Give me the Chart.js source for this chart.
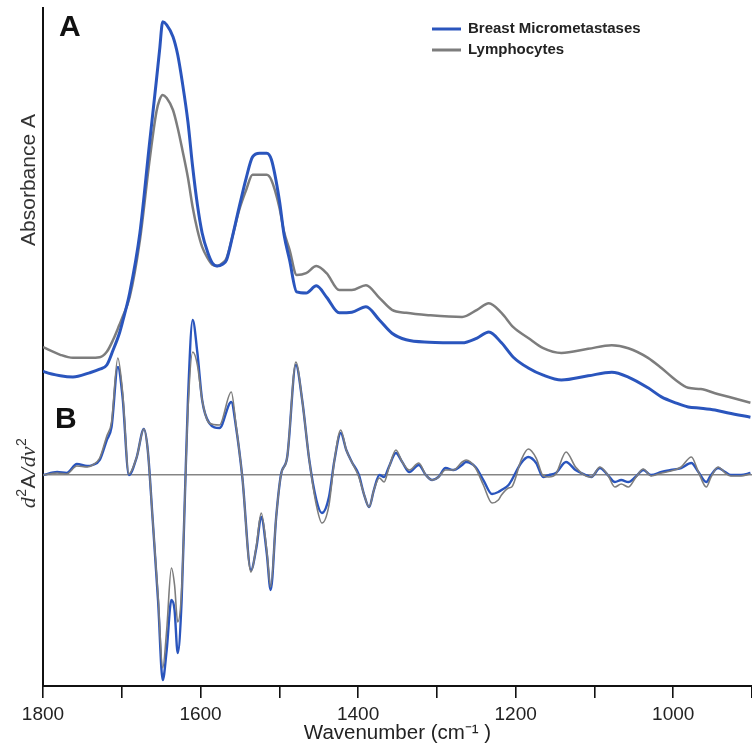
<!DOCTYPE html>
<html>
<head>
<meta charset="utf-8">
<script src="https://cdn.jsdelivr.net/npm/chart.js@4.4.1/dist/chart.umd.min.js"></script>
<style>
  html, body { margin: 0; padding: 0; background: #ffffff; }
  #wrap { width: 752px; height: 751px; }
</style>
</head>
<body>
<div id="wrap"><canvas id="c" width="752" height="751"></canvas></div>
<script>
// ---------- data ----------
const seriesNames = ['Breast Micrometastases', 'Lymphocytes'];
const panelLabels = ['A', 'B'];
const xTitle = 'Wavenumber (cm\u207B\u00B9 )';
const yTitleA = 'Absorbance A';
const xTickLabels = [1800, 1600, 1400, 1200, 1000];

// Panel A: absorbance spectra
const absWavenumber = [1800,1797,1778,1762,1741,1728,1719,1711,1703,1699,1690,1677,1665,1656,1652,1648,1643,1635,1629,1623,1616,1610,1604,1598,1591,1585,1579,1572,1567,1559,1551,1542,1534,1525,1516,1510,1500,1494,1487,1478,1466,1453,1440,1424,1408,1390,1373,1357,1339,1310,1268,1249,1234,1218,1203,1184,1165,1142,1108,1078,1057,1032,1015,997,981,965,947,930,902];
const absBreast = [0.525,0.523,0.517,0.515,0.522,0.528,0.535,0.560,0.588,0.607,0.655,0.755,0.902,1.010,1.060,1.107,1.102,1.082,1.052,1.005,0.940,0.865,0.802,0.755,0.723,0.705,0.700,0.703,0.710,0.752,0.798,0.847,0.882,0.888,0.888,0.877,0.810,0.752,0.710,0.657,0.655,0.667,0.648,0.622,0.623,0.632,0.610,0.588,0.577,0.573,0.572,0.580,0.590,0.572,0.548,0.530,0.518,0.510,0.517,0.523,0.515,0.497,0.482,0.472,0.465,0.463,0.460,0.455,0.448];
const absLymph = [0.565,0.563,0.552,0.547,0.547,0.548,0.557,0.577,0.602,0.615,0.648,0.743,0.873,0.957,0.977,0.985,0.980,0.960,0.930,0.893,0.847,0.798,0.760,0.732,0.713,0.702,0.700,0.705,0.713,0.752,0.793,0.827,0.852,0.852,0.852,0.843,0.798,0.757,0.727,0.685,0.688,0.700,0.688,0.660,0.660,0.668,0.647,0.627,0.622,0.618,0.615,0.627,0.638,0.622,0.598,0.580,0.563,0.555,0.562,0.568,0.563,0.547,0.530,0.510,0.497,0.495,0.488,0.482,0.472];

// Panel B: second-derivative spectra
const derWavenumber = [1800,1782,1770,1757,1744,1737,1728,1719,1713,1705,1699,1691,1681,1672,1667,1661,1654,1648,1643,1637,1633,1629,1624,1620,1616,1610,1604,1598,1589,1576,1561,1555,1547,1536,1529,1523,1516,1511,1504,1498,1490,1479,1471,1462,1453,1446,1437,1430,1422,1415,1408,1399,1393,1386,1380,1373,1367,1361,1352,1344,1335,1323,1314,1306,1298,1289,1279,1268,1263,1251,1241,1230,1222,1218,1209,1205,1193,1184,1174,1165,1158,1149,1136,1124,1111,1104,1093,1083,1074,1066,1057,1048,1038,1028,1015,1003,990,977,968,958,952,943,934,927,914,902];
const derBreast = [0,0.03,0.02,0.11,0.09,0.10,0.15,0.35,0.48,1.08,
  0.78,0,0.18,0.46,0.25,-0.42,-1.25,-2.05,-1.75,-1.25,
  -1.35,-1.78,-1.25,-0.25,0.75,1.55,1.22,0.75,0.52,0.47,
  0.73,0.48,-0.02,-0.95,-0.72,-0.42,-0.78,-1.15,-0.42,0,
  0.18,1.10,0.75,0.15,-0.25,-0.38,-0.22,0.15,0.42,0.25,
  0.13,0,-0.18,-0.32,-0.15,0,-0.02,0.08,0.22,0.13,
  0.03,0.10,0,-0.05,-0.02,0.07,0.05,0.10,0.13,0.08,
  -0.05,-0.19,-0.17,-0.15,-0.10,-0.05,0.12,0.18,0.12,-0.02,
  0,0.02,0.13,0.05,0,-0.02,0.07,0,-0.07,-0.05,
  -0.07,-0.02,0.05,0,0.03,0.05,0.07,0.12,0.03,-0.07,
  0,0.07,0.03,0,0,0.02];
const derLymph = [0,0.02,0.01,0.09,0.08,0.10,0.17,0.39,0.53,1.17,
  0.83,0.01,0.18,0.46,0.25,-0.42,-1.20,-1.93,-1.55,-0.93,
  -1.10,-1.47,-1.15,-0.25,0.65,1.23,1.10,0.75,0.52,0.50,
  0.83,0.50,-0.02,-0.97,-0.70,-0.38,-0.75,-1.12,-0.42,0,
  0.18,1.13,0.75,0.15,-0.30,-0.48,-0.30,0.15,0.45,0.25,
  0.13,-0.02,-0.18,-0.32,-0.15,-0.03,-0.07,0.07,0.25,0.13,
  0.05,0.12,0,-0.05,-0.02,0.05,0.05,0.13,0.15,0.07,
  -0.10,-0.28,-0.25,-0.20,-0.13,-0.12,0.15,0.26,0.17,-0.01,
  -0.02,0.01,0.23,0.08,-0.01,-0.02,0.08,0,-0.12,-0.09,
  -0.12,-0.03,0.06,-0.01,0.02,0.04,0.08,0.18,0.03,-0.12,
  -0.02,0.08,0.02,-0.01,-0.01,0.01];

// ---------- styling ----------
const BLUE = '#2a55bd';
const GRAY = '#7d7d7d';
const FONT = '"Liberation Sans", Arial, sans-serif';

const toXY = (xs, ys) => xs.map((x, i) => ({ x: x, y: ys[i] }));

const textPlugin = {
  id: 'panelText',
  afterDraw(chart) {
    const ctx = chart.ctx;
    const area = chart.chartArea;
    ctx.save();
    // panel letters
    ctx.fillStyle = '#111';
    ctx.font = 'bold 30px ' + FONT;
    ctx.textAlign = 'left';
    ctx.textBaseline = 'alphabetic';
    ctx.fillText(panelLabels[0], area.left + 16, 36);
    ctx.fillText(panelLabels[1], area.left + 12, 428);

    // y title for panel A
    ctx.save();
    ctx.translate(35, 180);
    ctx.rotate(-Math.PI / 2);
    ctx.fillStyle = '#333';
    ctx.font = '21px ' + FONT;
    ctx.textAlign = 'center';
    ctx.fillText(yTitleA, 0, 0);
    ctx.restore();

    // y title for panel B : d²A/dν²
    const parts = [
      { t: 'd', f: 'italic 22px "Liberation Serif", serif', dy: 0 },
      { t: '2', f: '14px ' + FONT, dy: -9 },
      { t: 'A', f: '21px ' + FONT, dy: 0 },
      { t: '/', f: 'italic 22px "Liberation Serif", serif', dy: 0 },
      { t: 'd\u03BD', f: 'italic 22px "Liberation Serif", serif', dy: 0 },
      { t: '2', f: '14px ' + FONT, dy: -9 }
    ];
    let total = 0;
    parts.forEach(p => { ctx.font = p.f; p.w = ctx.measureText(p.t).width + 0.5; total += p.w; });
    ctx.save();
    ctx.translate(35, 473);
    ctx.rotate(-Math.PI / 2);
    ctx.fillStyle = '#333';
    ctx.textAlign = 'left';
    let px = -total / 2;
    parts.forEach(p => { ctx.font = p.f; ctx.fillText(p.t, px, p.dy); px += p.w; });
    ctx.restore();

    // legend
    const rows = [
      { name: chart.data.datasets[0].label, color: chart.data.datasets[0].borderColor, y: 29 },
      { name: chart.data.datasets[1].label, color: chart.data.datasets[1].borderColor, y: 50 }
    ];
    ctx.font = 'bold 15px ' + FONT;
    ctx.textBaseline = 'middle';
    rows.forEach(r => {
      ctx.strokeStyle = r.color;
      ctx.lineWidth = 3;
      ctx.beginPath();
      ctx.moveTo(432, r.y);
      ctx.lineTo(461, r.y);
      ctx.stroke();
      ctx.fillStyle = '#222';
      ctx.fillText(r.name, 468, r.y);
    });
    ctx.restore();
  }
};

new Chart(document.getElementById('c'), {
  type: 'line',
  data: {
    datasets: [
      { label: seriesNames[0], data: toXY(absWavenumber, absBreast), yAxisID: 'yA',
        borderColor: BLUE, borderWidth: 3, pointRadius: 0, cubicInterpolationMode: 'monotone', fill: false },
      { label: seriesNames[1], data: toXY(absWavenumber, absLymph), yAxisID: 'yA',
        borderColor: GRAY, borderWidth: 2.5, pointRadius: 0, cubicInterpolationMode: 'monotone', fill: false },
      { label: seriesNames[1] + ' d2', data: toXY(derWavenumber, derLymph), yAxisID: 'yD',
        borderColor: GRAY, borderWidth: 1.6, pointRadius: 0, cubicInterpolationMode: 'monotone', fill: false },
      { label: seriesNames[0] + ' d2', data: toXY(derWavenumber, derBreast), yAxisID: 'yD',
        borderColor: BLUE, borderWidth: 2.4, pointRadius: 0, cubicInterpolationMode: 'monotone', fill: false }
    ]
  },
  options: {
    responsive: false,
    devicePixelRatio: 1,
    animation: false,
    events: [],
    layout: { padding: { left: 43, right: 0, top: 8, bottom: 0 } },
    plugins: { legend: { display: false }, tooltip: { enabled: false } },
    scales: {
      x: {
        type: 'linear',
        reverse: true,
        min: 900,
        max: 1800,
        ticks: {
          stepSize: 100,
          autoSkip: false,
          maxRotation: 0,
          padding: 0,
          color: '#222',
          font: { family: FONT, size: 19, lineHeight: 1.75 },
          callback: (v) => xTickLabels.includes(v) ? String(v) : ''
        },
        grid: { display: true, drawOnChartArea: false, drawTicks: true, tickLength: 12, color: '#111', lineWidth: 1.6 },
        border: { display: true, color: '#111', width: 2 },
        title: { display: true, text: xTitle, color: '#222',
                 font: { family: FONT, size: 20.5, lineHeight: 0.34 }, padding: { top: -1.75, bottom: 14.5 } }
      },
      yA: {
        type: 'linear',
        position: 'left',
        min: 0,
        max: 1.13,
        ticks: { display: false },
        grid: { display: false, drawTicks: false },
        border: { display: true, color: '#111', width: 2 },
        title: { display: false }
      },
      yD: {
        type: 'linear',
        position: 'left',
        min: -2.11,
        max: 4.67,
        afterBuildTicks: (s) => { s.ticks = [{ value: 0 }]; },
        ticks: { display: false },
        grid: { display: true, drawTicks: false, color: '#858585', lineWidth: 1.5 },
        border: { display: false },
        title: { display: false }
      }
    }
  },
  plugins: [textPlugin]
});
</script>
</body>
</html>
